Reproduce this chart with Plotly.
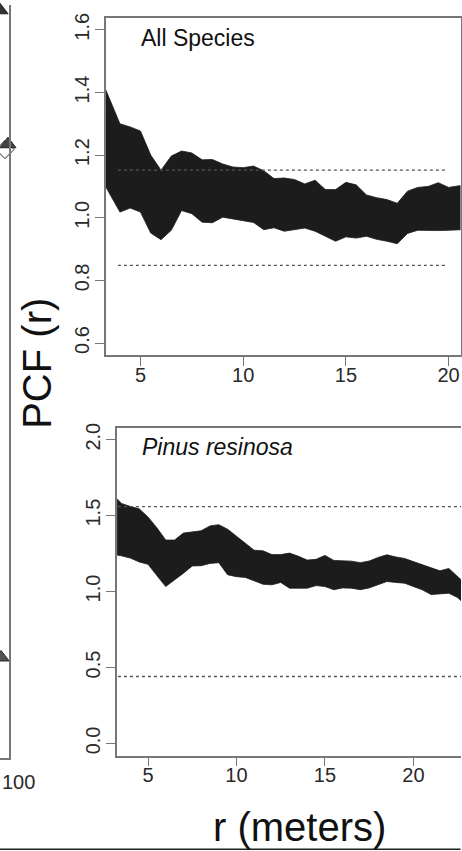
import plotly.graph_objects as go

# ---------------- data ----------------
# All Species panel
r_all = [3.3, 4.0, 4.5, 5.0, 5.5, 6.0, 6.5, 7.0, 7.5, 8.0, 8.5, 9.0, 9.5, 10.0,
         10.5, 11.0, 11.5, 12.0, 12.5, 13.0, 13.5, 14.0, 14.5, 15.0, 15.5, 16.0,
         16.5, 17.0, 17.5, 18.0, 18.5, 19.0, 19.5, 20.0, 20.5, 20.7]
upper_all = [1.41, 1.30, 1.29, 1.277, 1.20, 1.152, 1.197, 1.213, 1.207, 1.185,
             1.186, 1.172, 1.162, 1.160, 1.165, 1.150, 1.125, 1.127, 1.122, 1.108,
             1.120, 1.090, 1.090, 1.113, 1.105, 1.073, 1.064, 1.058, 1.046, 1.085,
             1.097, 1.100, 1.112, 1.097, 1.102, 1.102]
lower_all = [1.10, 1.018, 1.031, 1.018, 0.951, 0.930, 0.960, 1.023, 1.013, 0.986,
             0.984, 1.002, 0.995, 0.990, 0.985, 0.962, 0.968, 0.957, 0.962, 0.967,
             0.957, 0.941, 0.925, 0.939, 0.935, 0.941, 0.931, 0.925, 0.917, 0.950,
             0.960, 0.959, 0.959, 0.960, 0.961, 0.962]
csr_all = [0.848, 1.152]          # dotted reference envelope
csr_all_r = [3.9, 19.9]

# Pinus resinosa panel
r_pin = [3.25, 3.5, 4.0, 4.5, 5.0, 5.5, 6.0, 6.5, 7.0, 7.5, 8.0, 8.5, 9.0, 9.5,
         10.0, 10.5, 11.0, 11.5, 12.0, 12.5, 13.0, 13.5, 14.0, 14.5, 15.0, 15.5,
         16.0, 16.5, 17.0, 17.5, 18.0, 18.5, 19.0, 19.5, 20.0, 20.5, 21.0, 21.5,
         22.0, 22.5, 22.7]
upper_pin = [1.611, 1.58, 1.56, 1.545, 1.49, 1.42, 1.339, 1.339, 1.385, 1.393,
             1.40, 1.432, 1.440, 1.41, 1.362, 1.314, 1.272, 1.268, 1.243, 1.243,
             1.253, 1.232, 1.207, 1.212, 1.238, 1.205, 1.201, 1.200, 1.190, 1.201,
             1.224, 1.242, 1.228, 1.218, 1.197, 1.176, 1.156, 1.136, 1.152, 1.10,
             1.077]
lower_pin = [1.240, 1.235, 1.22, 1.195, 1.179, 1.105, 1.033, 1.077, 1.120, 1.168,
             1.170, 1.185, 1.190, 1.110, 1.098, 1.093, 1.070, 1.048, 1.044, 1.060,
             1.022, 1.022, 1.022, 1.039, 1.033, 1.012, 1.024, 1.022, 1.012, 1.024,
             1.045, 1.066, 1.060, 1.055, 1.034, 1.011, 0.980, 0.983, 0.989, 0.960,
             0.939]
csr_pin = [0.441, 1.559]
csr_pin_r = [3.3, 23.0]

# fragment of the neighbouring panel (left edge)
frag_x = [95.8, 99.3, 90.0, 91.2]
frag_y = [0.808, 0.815, 0.993, 0.133]
frag_sym = ["diamond", "triangle-up", "triangle-up", "triangle-up"]
frag_fill = ["white", "#444444", "#333333", "#555555"]
frag_tick_label = "100"

x_ticks_all = [5, 10, 15, 20]
y_ticks_all = [0.6, 0.8, 1.0, 1.2, 1.4, 1.6]
x_ticks_pin = [5, 10, 15, 20]
y_ticks_pin = [0.0, 0.5, 1.0, 1.5, 2.0]

# ---------------- figure ----------------
W, H = 462, 851
fig = go.Figure()

band = "#1c1c1c"
fig.add_trace(go.Scatter(x=r_all + r_all[::-1], y=upper_all + lower_all[::-1],
                         fill="toself", fillcolor=band, mode="lines",
                         line=dict(color=band, width=0.8), xaxis="x", yaxis="y",
                         hoverinfo="skip", showlegend=False))
for v in csr_all:
    fig.add_trace(go.Scatter(x=csr_all_r, y=[v, v], mode="lines",
                             line=dict(color="#555555", width=1.4, dash="dot"),
                             xaxis="x", yaxis="y", showlegend=False))

fig.add_trace(go.Scatter(x=r_pin + r_pin[::-1], y=upper_pin + lower_pin[::-1],
                         fill="toself", fillcolor=band, mode="lines",
                         line=dict(color=band, width=0.8), xaxis="x2", yaxis="y2",
                         hoverinfo="skip", showlegend=False))
for v in csr_pin:
    fig.add_trace(go.Scatter(x=csr_pin_r, y=[v, v], mode="lines",
                             line=dict(color="#555555", width=1.4, dash="dot"),
                             xaxis="x2", yaxis="y2", showlegend=False))

fig.add_trace(go.Scatter(x=frag_x, y=frag_y, mode="markers",
                         marker=dict(symbol=frag_sym, size=14, color=frag_fill,
                                     line=dict(color="#222222", width=1)),
                         xaxis="x3", yaxis="y3", showlegend=False, cliponaxis=False))

tickfont = dict(family="Liberation Sans, Arial, sans-serif", size=20, color="#2a2a2a")
axcol = "#777777"

def px_x(p):
    return p / W

def px_y(p):
    return 1 - p / H

common = dict(showgrid=False, zeroline=False, showline=True, linecolor=axcol,
              linewidth=1.5, ticks="outside", ticklen=9, tickwidth=1.3,
              tickcolor=axcol, tickfont=tickfont)

fig.update_layout(
    width=W, height=H, margin=dict(l=0, r=0, t=0, b=0),
    paper_bgcolor="white", plot_bgcolor="white",
    xaxis=dict(domain=[px_x(106), px_x(461.5)], range=[3.31, 20.58],
               tickvals=x_ticks_all, mirror=True, anchor="y",
               ticklabelstandoff=-8, **common),
    yaxis=dict(domain=[px_y(352), px_y(12.7)], range=[0.562, 1.639],
               tickvals=y_ticks_all, tickformat=".1f", tickangle=-90,
               mirror=True, anchor="x", ticklabelstandoff=-2, **common),
    xaxis2=dict(domain=[px_x(117.3), 1.0], range=[3.25, 22.69],
                tickvals=x_ticks_pin, mirror=True, anchor="y2",
                ticklabelstandoff=-8, **common),
    yaxis2=dict(domain=[px_y(755), px_y(425)], range=[-0.08, 2.08],
                tickvals=y_ticks_pin, tickformat=".1f", tickangle=-90,
                anchor="x2", ticklabelstandoff=-2, **common),
    xaxis3=dict(domain=[0, px_x(9)], range=[90, 100.5], showticklabels=False,
                showgrid=False, zeroline=False, showline=True, linecolor=axcol,
                linewidth=1.5, ticks="", anchor="y3"),
    yaxis3=dict(domain=[px_y(757), 1.0], range=[0, 1], showticklabels=False,
                showgrid=False, zeroline=False, showline=True, linecolor=axcol,
                linewidth=1.5, ticks="", side="right", anchor="x3"),
)

titlefont = dict(family="Liberation Sans, Arial, sans-serif", size=23, color="#111111")
fig.add_annotation(text="All Species", xref="paper", yref="paper",
                   x=px_x(139), y=px_y(33), xanchor="left", yanchor="middle",
                   showarrow=False, font=titlefont)
fig.add_annotation(text="<i>Pinus resinosa</i>", xref="paper", yref="paper",
                   x=px_x(140), y=px_y(445), xanchor="left", yanchor="middle",
                   showarrow=False, font=titlefont)

# tick label of the neighbouring (cropped) panel
fig.add_annotation(text=frag_tick_label, xref="paper", yref="paper",
                   x=0, y=px_y(782), xanchor="left", yanchor="middle",
                   showarrow=False, font=tickfont)

labfont = dict(family="Liberation Sans, Arial, sans-serif", size=40, color="#111111")
fig.add_annotation(text="PCF (r)", xref="paper", yref="paper",
                   x=px_x(37), y=px_y(360), xanchor="center", yanchor="middle",
                   textangle=-90, showarrow=False, font=labfont)
fig.add_annotation(text="r (meters)", xref="paper", yref="paper",
                   x=px_x(300), y=px_y(827), xanchor="center", yanchor="middle",
                   showarrow=False, font=labfont)

fig.add_shape(type="line", xref="paper", yref="paper", x0=0, x1=px_x(461.5),
              y0=px_y(849.3), y1=px_y(849.3), line=dict(color="#222222", width=1.5))

fig.write_html("out.html")
